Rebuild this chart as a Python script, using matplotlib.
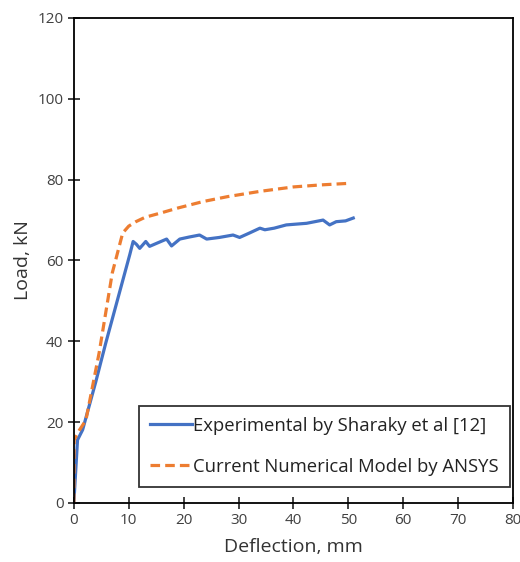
import matplotlib.pyplot as plt

plt.rcParams['font.family'] = ['Open Sans', 'DejaVu Sans']

# experimental (blue)
exp_x = [0, 0.3, 0.67, 1.6, 4.0, 5.8, 8.0, 9.5, 10.2, 10.8, 11.4, 12.0, 13.1, 13.8, 15.0,
         16.9, 17.8, 19.3, 21.0, 22.9, 24.2, 26.5, 29.0, 30.2, 32.0, 33.9, 34.8, 36.5,
         38.7, 42.4, 45.4, 46.6, 47.8, 49.5, 50.9]
exp_y = [0, 7, 15.6, 18.1, 30.0, 39.5, 50.5, 58.0, 61.5, 64.7, 64.0, 63.0, 64.7, 63.5, 64.2,
         65.3, 63.6, 65.3, 65.8, 66.3, 65.3, 65.7, 66.3, 65.7, 66.8, 68.0, 67.6, 68.0,
         68.8, 69.2, 70.0, 68.8, 69.6, 69.8, 70.5]

# ANSYS model (orange dashed)
num_x = [0, 0.05, 1.0, 2.2, 4.6, 7.0, 8.9, 10.0, 11.3, 13.0, 15.7, 19.0,
         23.6, 28.0, 33.9, 40.0, 45.0, 50.3]
num_y = [0, 15.6, 18.0, 20.5, 37.1, 56.9, 66.8, 68.5, 69.6, 70.7, 71.7, 73.0,
         74.6, 75.8, 77.1, 78.2, 78.7, 79.1]

fig = plt.figure(figsize=(5.2, 5.62), dpi=100)
ax = fig.add_axes([0.142, 0.105, 0.8445, 0.863])
ax.plot(exp_x, exp_y, color='#4472C4', lw=2.3, label='Experimental by Sharaky et al [12]')
ax.plot(num_x, num_y, color='#ED7D31', lw=2.3, ls=(0, (3, 1.6)), label='Current Numerical Model by ANSYS')

ax.set_xlim(0, 80)
ax.set_ylim(0, 120)
ax.set_xticks(range(0, 81, 10))
ax.set_yticks(range(0, 121, 20))
ax.tick_params(direction='inout', length=8, width=1.2, labelsize=11, colors='#222222', labelcolor='#404040')
for s in ax.spines.values():
    s.set_linewidth(1.3)
ax.set_xlabel('Deflection, mm', fontsize=14, color='#333333', labelpad=7)
ax.set_ylabel('Load, kN', fontsize=14, color='#333333', labelpad=4)

leg = ax.legend(loc='lower right', bbox_to_anchor=(0.993, 0.033), fontsize=13.3,
                frameon=True, fancybox=False, edgecolor='black', handlelength=2.3,
                handletextpad=0.05, labelspacing=1.25, borderpad=0.6, borderaxespad=0)
leg.get_frame().set_linewidth(1.3)
for t in leg.get_texts():
    t.set_color('#222222')

fig.savefig('out.png')
